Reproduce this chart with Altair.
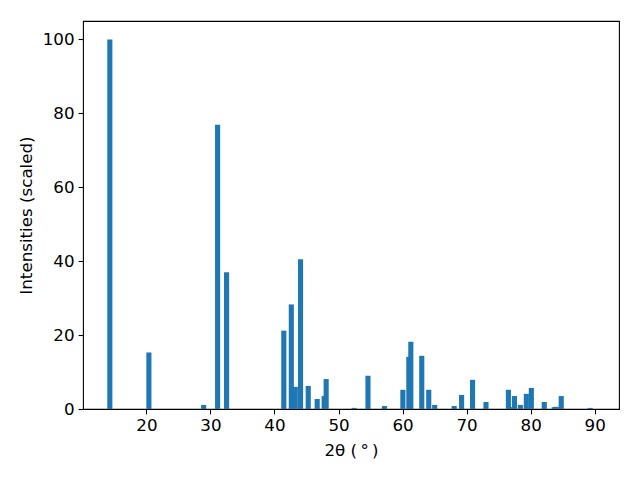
import altair as alt
import pandas as pd

two_theta = [14.29, 20.39, 28.94, 31.12, 32.52, 41.46, 42.63, 43.25, 44.07, 45.27,
             46.67, 47.76, 48.07, 52.43, 54.60, 57.17, 60.05, 60.98, 61.29, 63.00,
             64.09, 65.02, 68.06, 69.22, 70.93, 73.03, 76.53, 77.15, 77.47, 78.40,
             79.33, 80.11, 82.13, 83.70, 84.00, 84.78, 89.29]
intensity = [100, 15.3, 1.1, 76.9, 37.0, 21.2, 28.3, 6.0, 40.5, 6.25,
             2.7, 3.5, 8.1, 0.3, 9.0, 0.8, 5.2, 14.1, 18.2, 14.4,
             5.2, 1.1, 0.8, 3.8, 7.9, 1.9, 5.2, 0.5, 3.5, 1.1,
             4.1, 5.7, 1.9, 0.5, 0.6, 3.5, 0.3]
x_ticks = [20, 30, 40, 50, 60, 70, 80, 90]
y_ticks = [0, 20, 40, 60, 80, 100]

df = pd.DataFrame({"tt": two_theta, "I": intensity, "order": range(len(two_theta))})

FONT = "DejaVu Sans"
FS = 16.7

common = dict(grid=False, domain=False, tickColor="black", tickSize=4.9,
              tickWidth=1.1, labelColor="black", labelFontSize=FS,
              labelFont=FONT, titleFont=FONT, titleFontSize=FS,
              titleFontWeight="normal", titleColor="black",
              labelPadding=4, labelFlush=False)

chart = (
    alt.Chart(df)
    .transform_calculate(x0="datum.tt - 0.4", x1="datum.tt + 0.4", base="0")
    .mark_bar(color="#1f77b4", strokeWidth=0)
    .encode(
        x=alt.X("x0:Q",
                scale=alt.Scale(domain=[10.1, 93.8], nice=False, zero=False),
                axis=alt.Axis(values=x_ticks, title="2θ (\u2009°\u2009)",
                              titlePadding=8, **common)),
        x2="x1:Q",
        y=alt.Y("I:Q",
                scale=alt.Scale(domain=[0, 105], nice=False),
                axis=alt.Axis(values=y_ticks, title="Intensities (scaled)",
                              titlePadding=7, **common)),
        y2="base:Q",
        order="order:Q",
    )
    .properties(
        width=536, height=388,
        background="white",
        autosize=alt.AutoSizeParams(type="none"),
        padding={"left": 75, "top": 13, "right": 13, "bottom": 55},
    )
    .configure_view(stroke="black", strokeWidth=1.1, strokeOpacity=1)
)

chart.save("out.html", embed_options={"renderer": "svg", "actions": False})
